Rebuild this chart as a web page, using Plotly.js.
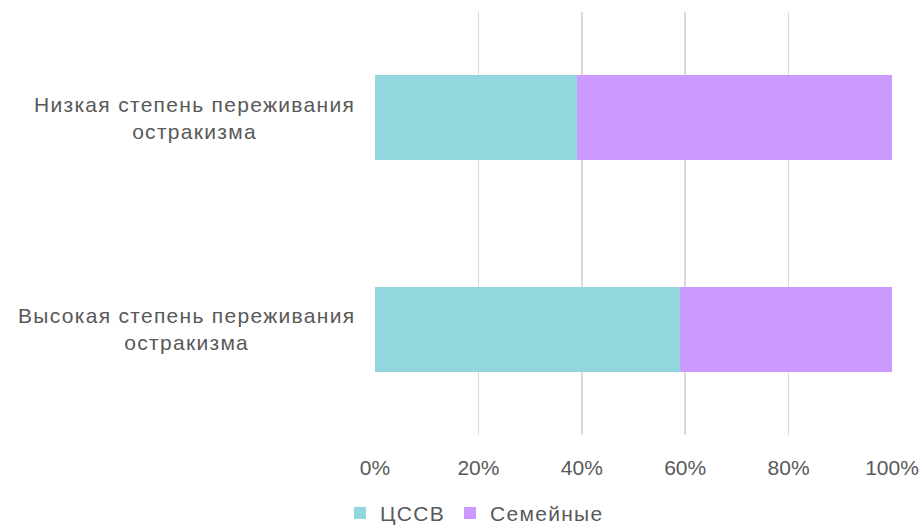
<!DOCTYPE html>
<html>
<head>
<meta charset="utf-8">
<script src="https://cdn.plot.ly/plotly-3.0.1.min.js"></script>
<style>
html,body{margin:0;padding:0;background:#fff;}
#chart{width:923px;height:526px;}
.annotation-text{letter-spacing:1.3px;}
.legendtext{letter-spacing:1.3px;}
</style>
</head>
<body>
<div id="chart"></div>
<script>
const categories = ["Низкая степень переживания<br>остракизма", "Высокая степень переживания<br>остракизма"];
const seriesNames = ["ЦССВ", "Семейные"];
const valuesCSSV = [0.39, 0.59];
const valuesFamily = [0.61, 0.41];
const tickVals = [0, 0.2, 0.4, 0.6, 0.8, 1.0];
const tickLabels = ["0%", "20%", "40%", "60%", "80%", "100%"];
const colors = ["#92D7DE", "#CC99FF"];

const FONT = "Arial, 'Liberation Sans', sans-serif";
const TXT = "#595959";
const FS = 21;

const traces = [
  {type: "bar", orientation: "h", name: seriesNames[0], y: categories, x: valuesCSSV,
   marker: {color: colors[0]}, width: 0.4, hoverinfo: "x"},
  {type: "bar", orientation: "h", name: seriesNames[1], y: categories, x: valuesFamily,
   marker: {color: colors[1]}, width: 0.4, hoverinfo: "x"}
];

const annotations = categories.map(c => ({
  xref: "paper", yref: "y", x: 0, y: c, xanchor: "right", yanchor: "middle",
  xshift: -18, text: c, align: "center", showarrow: false,
  font: {family: FONT, size: FS, color: TXT}
}));

const layout = {
  width: 923, height: 526,
  margin: {l: 375, r: 31, t: 12, b: 91},
  barmode: "stack",
  paper_bgcolor: "#fff", plot_bgcolor: "#fff",
  font: {family: FONT, size: FS, color: TXT},
  xaxis: {range: [0, 1], tickvals: tickVals, ticktext: tickLabels,
    showgrid: true, gridcolor: "#D9D9D9", gridwidth: 1.5, zeroline: false,
    showline: false, ticks: "", ticklabelstandoff: 18,
    tickfont: {family: FONT, size: FS, color: TXT}, fixedrange: true},
  yaxis: {categoryorder: "array", categoryarray: categories.slice().reverse(),
    range: [-0.5, 1.5], showticklabels: false, showgrid: false, zeroline: false,
    showline: false, ticks: "", fixedrange: true},
  showlegend: true,
  legend: {orientation: "h", xref: "container", yref: "container",
    x: 0.514, xanchor: "center", y: 0.024, yanchor: "middle",
    traceorder: "normal", font: {family: FONT, size: FS, color: TXT},
    itemwidth: 30, bgcolor: "rgba(0,0,0,0)"},
  annotations: annotations
};

Plotly.newPlot("chart", traces, layout, {displayModeBar: false, staticPlot: true});
</script>
</body>
</html>
